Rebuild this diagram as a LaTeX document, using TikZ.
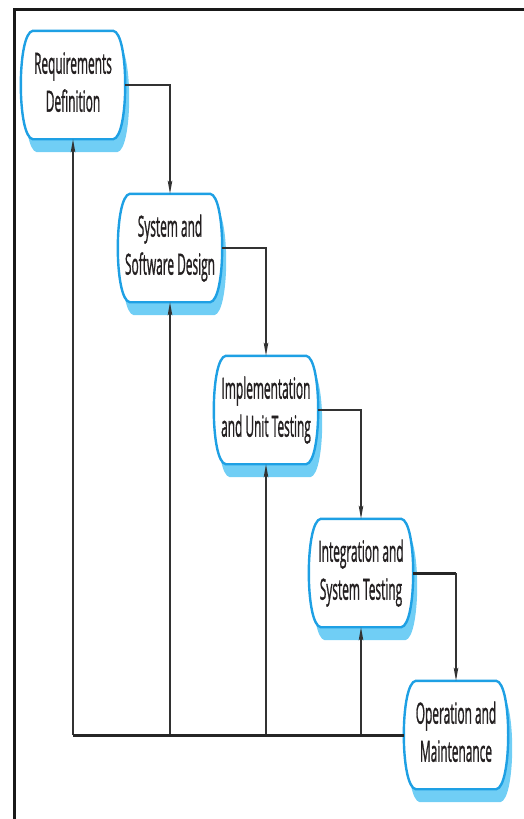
\documentclass[tikz,border=0pt]{standalone}
\usepackage{fontspec}
\setmainfont{Open Sans}[FakeBold=1.6]
\usetikzlibrary{arrows.meta,calc,backgrounds}

\definecolor{boxblue}{RGB}{30,160,228}
\definecolor{shadeblue}{RGB}{112,206,245}
\definecolor{inkgray}{RGB}{50,50,50}
\definecolor{textink}{RGB}{35,31,32}

\tikzset{
  phase/.style={rectangle, minimum width=104pt, minimum height=108pt,
    inner sep=0pt, text=textink, font=\fontsize{29}{38}\selectfont},
  flow/.style={draw=inkgray, line width=1.5pt,
    -{Stealth[length=13pt,width=4.5pt,inset=2pt]}},
  feed/.style={draw=inkgray, line width=1.5pt,
    -{Stealth[length=13pt,width=4.5pt,inset=2pt]}},
  heavy/.style={draw=black!85, line width=3pt},
  frame/.style={draw=black!90, line width=3pt},
  boxrim/.style={draw=boxblue, line width=2.4pt, fill=white},
  boxshade/.style={fill=shadeblue},
}

% barrel outline around a phase node, offset by (#2,#3)
\newcommand\barrelpath[3]{%
  ($(#1.north west)+(12+#2,#3)$) -- ($(#1.north east)+(-12+#2,#3)$)
  .. controls ($(#1.north east)+(4+#2,2+#3)$) and ($(#1.south east)+(4+#2,-2+#3)$)
  .. ($(#1.south east)+(-12+#2,#3)$) -- ($(#1.south west)+(12+#2,#3)$)
  .. controls ($(#1.south west)+(-4+#2,-2+#3)$) and ($(#1.north west)+(-4+#2,2+#3)$)
  .. cycle}

\newcommand\phasetext[2]{\scalebox{0.41}[1]{\begin{tabular}{@{}c@{}}#1\\#2\end{tabular}}}

\begin{document}
\begin{tikzpicture}[x=1pt,y=-1pt]
  \useasboundingbox (0,0) rectangle (524,819);

  % outer frame (top and left edges)
  \draw[frame] (524,9) -- (14,9) -- (14,819);

  % phases
  \node[phase] (req)  at (73,85)   {\phasetext{Requirements}{Definition}};
  \node[phase] (des)  at (170,248) {\phasetext{System and}{Software Design}};
  \node[phase] (impl) at (266,410) {\phasetext{Implementation}{and Unit Testing}};
  \node[phase] (integ) at (361,573) {\phasetext{Integration and}{System Testing}};
  \node[phase] (oper) at (456,735) {\phasetext{Operation and}{Maintenance}};

  \begin{scope}[on background layer]
    \foreach \n in {req,des,impl,integ,oper}{
      \fill[boxshade] \barrelpath{\n}{4}{13};
      \path[boxrim] \barrelpath{\n}{0}{0};
    }
  \end{scope}

  % downward flow
  \draw[flow] (req.east) -| (des.north);
  \draw[flow] (des.east) -| (impl.north);
  \draw[flow] (impl.east) -| (integ.north);
  \draw[heavy] (integ.east) -- (integ.east -| oper.north);
  \draw[flow] (integ.east -| oper.north) -- (oper.north);

  % feedback paths
  \coordinate (fbstart) at (req.south |- oper.west);
  \draw[feed] (fbstart) -- (req.south);
  \draw[feed] (des.south |- oper.west) -- (des.south);
  \draw[feed] (impl.south |- oper.west) -- (impl.south);
  \draw[feed] (integ.south |- oper.west) -- (integ.south);
  \draw[heavy] (fbstart) -- (oper.west);
\end{tikzpicture}
\end{document}
